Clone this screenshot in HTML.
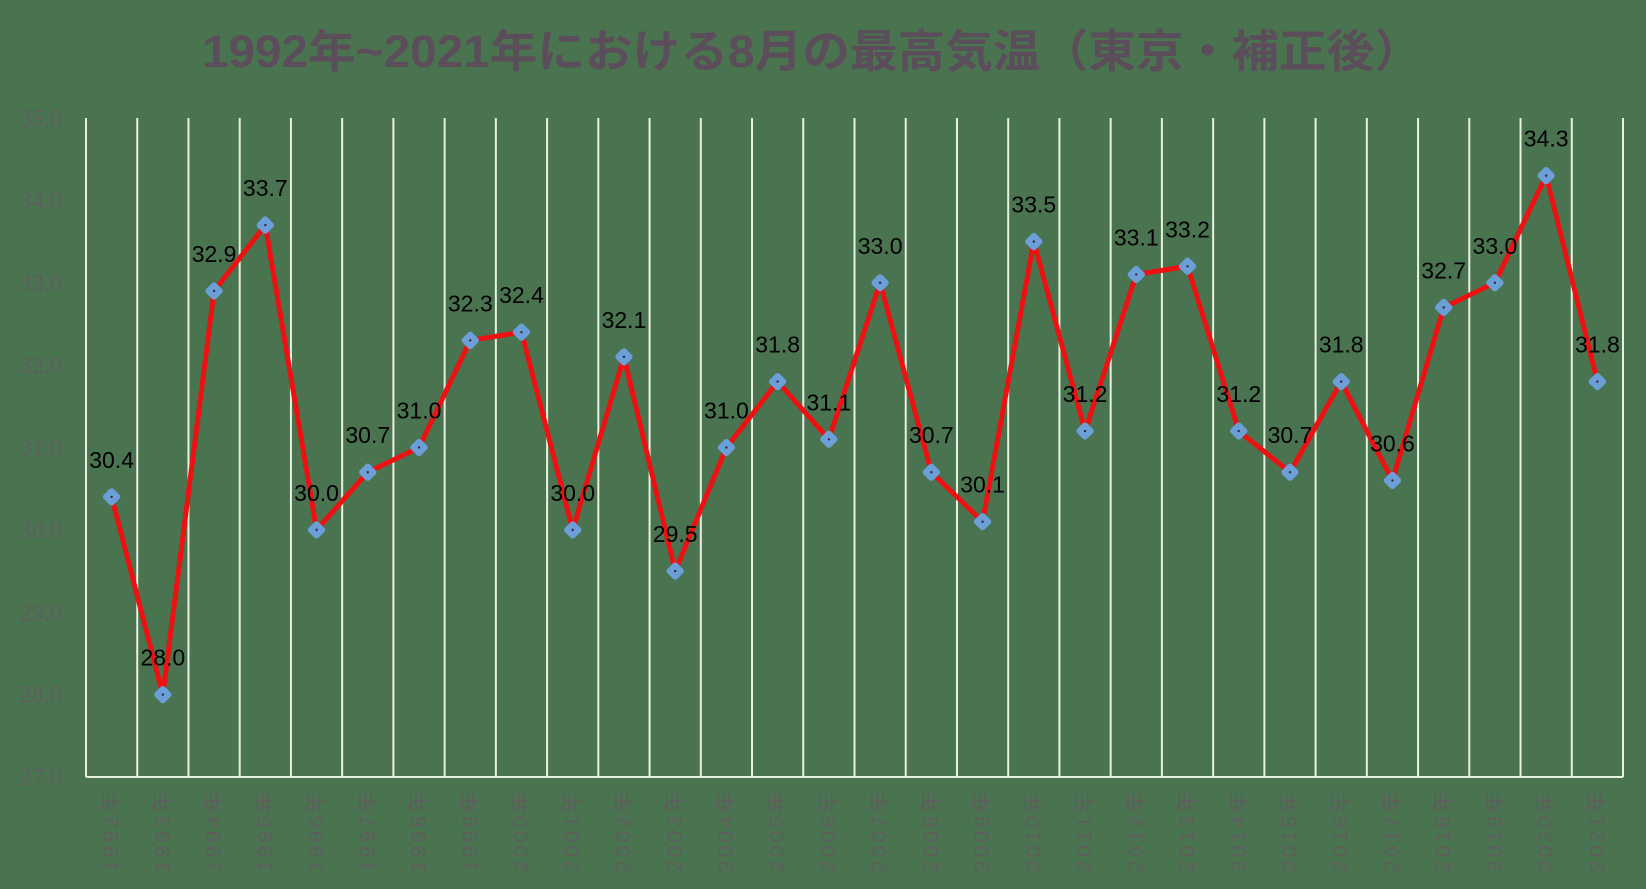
<!DOCTYPE html>
<html><head><meta charset="utf-8"><style>
html,body{margin:0;padding:0;background:#4a7350;}
svg{display:block}
</style></head><body>
<svg id="chart" width="1646" height="889" xmlns="http://www.w3.org/2000/svg">
<rect width="1646" height="889" fill="#4a7350"/>
<text x="812" y="67" text-anchor="middle" font-family="'Liberation Sans','Noto Sans CJK JP',sans-serif" font-weight="bold" font-size="45" fill="#5b4e5a" textLength="1220" lengthAdjust="spacingAndGlyphs">1992年~2021年における8月の最高気温（東京・補正後）</text>
<g id="grid"></g><g id="yaxis"></g><g id="xaxis"></g><g id="series"></g><g id="labels"></g>
</svg>
<script>
const years = ["1992","1993","1994","1995","1996","1997","1998","1999","2000","2001","2002","2003","2004","2005","2006","2007","2008","2009","2010","2011","2012","2013","2014","2015","2016","2017","2018","2019","2020","2021"];
const temps = [30.4,28.0,32.9,33.7,30.0,30.7,31.0,32.3,32.4,30.0,32.1,29.5,31.0,31.8,31.1,33.0,30.7,30.1,33.5,31.2,33.1,33.2,31.2,30.7,31.8,30.6,32.7,33.0,34.3,31.8];
const yTicks = [27,28,29,30,31,32,33,34,35];

const NS="http://www.w3.org/2000/svg";
const L=86,R=1623,T=118,B=777,yMin=27,yMax=35;
const bw=(R-L)/years.length;
const xs=i=>L+bw*(i+0.5);
const ys=v=>B-(v-yMin)/(yMax-yMin)*(B-T);
function mk(tag,attrs,parent){const e=document.createElementNS(NS,tag);for(const k in attrs)e.setAttribute(k,attrs[k]);parent.appendChild(e);return e;}
const grid=document.getElementById('grid'),ya=document.getElementById('yaxis'),xa=document.getElementById('xaxis'),se=document.getElementById('series'),lb=document.getElementById('labels');
for(let i=0;i<=years.length;i++){
  const x=L+bw*i;
  const ln=mk('line',{x1:x,x2:x,y1:T,y2:B,stroke:'#e8f0e0','stroke-width':2},grid);
  
  
}
const ax=mk('line',{x1:L,x2:R,y1:B,y2:B,stroke:'#e8f0e0','stroke-width':2},grid);


yTicks.forEach(v=>{
  const t=mk('text',{x:62,y:ys(v)+8,'text-anchor':'end','font-family':"'Liberation Serif',serif",'font-size':24,fill:'#5e5e5e'},ya);
  t.textContent=v.toFixed(1);
  
  
});
years.forEach((y,i)=>{
  const x=xs(i),yy=792;
  const t=mk('text',{x:x,y:yy,transform:`rotate(-90 ${x} ${yy})`,'text-anchor':'end','dominant-baseline':'central','font-family':"'Liberation Sans','Noto Sans CJK JP',sans-serif",'font-size':21,fill:'#5e5e5e',textLength:80,lengthAdjust:'spacing'},xa);
  t.textContent=y+'年';
  
  
});
const pts=temps.map((v,i)=>xs(i)+','+ys(v)).join(' ');
const pl=mk('polyline',{points:pts,fill:'none',stroke:'#ee1111','stroke-width':5,'stroke-linejoin':'round'},se);


temps.forEach((v,i)=>{
  const x=xs(i),y=ys(v);
  const m=mk('rect',{x:x-7,y:y-7,width:14,height:14,rx:3,fill:'#6a9fd8',transform:`rotate(45 ${x} ${y})`},se);
  
  
  mk('circle',{cx:x,cy:y,r:1.2,fill:'#402040'},se);
  const t=mk('text',{x:x,y:y-29,'text-anchor':'middle','font-family':"'Liberation Sans',sans-serif",'font-size':23,fill:'#000'},lb);
  t.textContent=v.toFixed(1);
  
  
});
</script>
</body></html>
